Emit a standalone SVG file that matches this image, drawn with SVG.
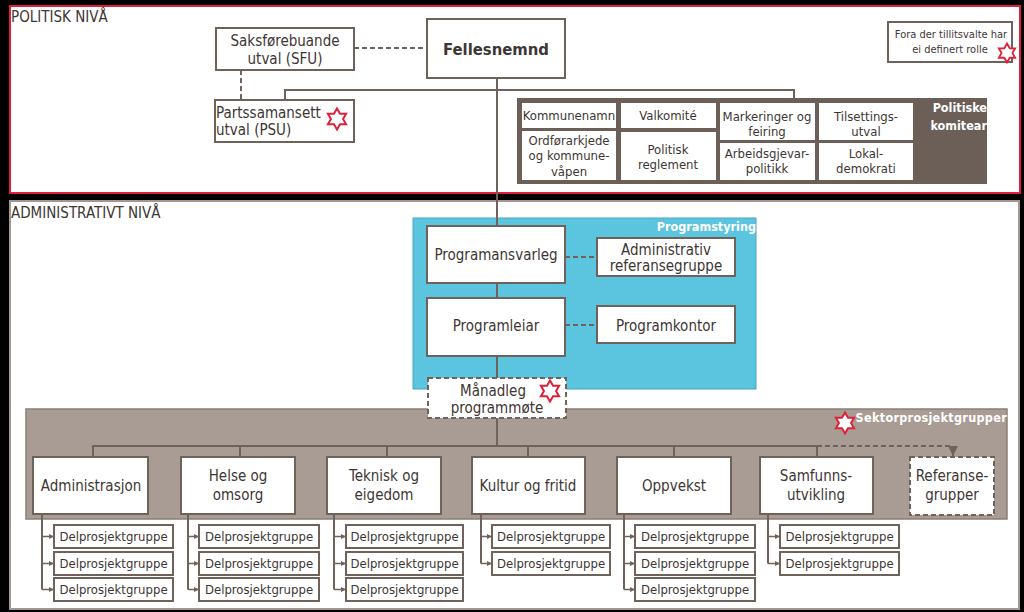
<svg xmlns="http://www.w3.org/2000/svg" width="1024" height="612" viewBox="0 0 1024 612">
<style>
text{font-family:"DejaVu Sans Condensed","DejaVu Sans",sans-serif;font-stretch:condensed;fill:#3d3634}
.n{fill:#fff;stroke:#6e625b;stroke-width:2}
.nd{fill:#fff;stroke:#6e625b;stroke-width:2;stroke-dasharray:5 3}
.ln{fill:none;stroke:#6e625b;stroke-width:2}
.ds{fill:none;stroke:#6e625b;stroke-width:2;stroke-dasharray:5 3}
.t15{font-size:15px;text-anchor:middle}
.t13{font-size:13px;text-anchor:middle}
.del{font-size:13px;text-anchor:middle}
.wb{fill:#fff;font-weight:bold;font-size:12.5px;text-anchor:end}
.title{font-size:15px}
.star{fill:#fff;stroke:#e0203a;stroke-width:2;stroke-linejoin:miter}
</style>
<defs>
<polygon id="star" points="0,-10.5 3.03,-5.25 9.09,-5.25 6.06,0 9.09,5.25 3.03,5.25 0,10.5 -3.03,5.25 -9.09,5.25 -6.06,0 -9.09,-5.25 -3.03,-5.25"/>
<marker id="ah" markerWidth="6" markerHeight="6" refX="5" refY="3" orient="auto" markerUnits="userSpaceOnUse"><path d="M0,0.5 L5,3 L0,5.5 Z" fill="#6e625b"/></marker>
<marker id="ahd" markerWidth="12" markerHeight="10" refX="10" refY="5" orient="auto" markerUnits="userSpaceOnUse"><path d="M0,0 L10,5 L0,10 Z" fill="#6e625b"/></marker>
</defs>
<rect x="0" y="0" width="1024" height="612" fill="#000"/>
<!-- frames -->
<g id="politisk-niva">
<rect x="10" y="6" width="1010" height="187" fill="#fff" stroke="#e0203a" stroke-width="2"/>
<text class="title" x="11" y="22">POLITISK NIVÅ</text>
</g>
<g id="administrativt-niva">
<rect x="10" y="201" width="1009" height="408" fill="#fff" stroke="#a39891" stroke-width="2"/>
<text class="title" x="11" y="218">ADMINISTRATIVT NIVÅ</text>
</g>
<g id="programstyring">
<rect x="413" y="218" width="343" height="171" fill="#5bc4df" stroke="#4aa7c0" stroke-width="1"/>
<text class="wb" x="756" y="231">Programstyring</text>
</g>
<g id="sektorprosjektgrupper">
<rect x="26" y="409" width="981" height="110" fill="#a99c94" stroke="#8c7f77" stroke-width="1.5"/>
<text class="wb" x="1007" y="422" style="letter-spacing:0.3px">Sektorprosjektgrupper</text>
<use href="#star" x="845" y="423" class="star"/>
</g>
<g id="politiske-komitear">
<rect x="517" y="98" width="470" height="86" fill="#6b5f58"/>
<text class="wb" x="987" y="112">Politiske</text>
<text class="wb" x="987" y="130">komitear</text>
<rect x="522" y="103" width="94" height="25" fill="#fff"/>
<text class="t13" x="569" y="120">Kommunenamn</text>
<rect x="522" y="131" width="94" height="49" fill="#fff"/>
<text class="t13" x="569" y="145">Ordførarkjede</text>
<text class="t13" x="569" y="160">og kommune-</text>
<text class="t13" x="569" y="176">våpen</text>
<rect x="621" y="103" width="95" height="25" fill="#fff"/>
<text class="t13" x="668" y="120">Valkomité</text>
<rect x="621" y="132" width="95" height="48" fill="#fff"/>
<text class="t13" x="668" y="154">Politisk</text>
<text class="t13" x="668" y="169">reglement</text>
<rect x="720" y="103" width="95" height="37" fill="#fff"/>
<text class="t13" x="767" y="121">Markeringer og</text>
<text class="t13" x="767" y="136">feiring</text>
<rect x="720" y="143" width="95" height="37" fill="#fff"/>
<text class="t13" x="767" y="158">Arbeidsgjevar-</text>
<text class="t13" x="767" y="173">politikk</text>
<rect x="819" y="103" width="94" height="37" fill="#fff"/>
<text class="t13" x="866" y="121">Tilsettings-</text>
<text class="t13" x="866" y="136">utval</text>
<rect x="819" y="143" width="94" height="37" fill="#fff"/>
<text class="t13" x="866" y="158">Lokal-</text>
<text class="t13" x="866" y="173">demokrati</text>
</g>
<!-- connectors -->
<g id="connectors">
<path class="ln" d="M497,78 V226 M497,283 V298 M497,356 V378"/>
<path class="ln" d="M285,100 V90 H794 V98"/>
<path class="ds" d="M354,48 H427"/>
<path class="ds" d="M241,70 V100"/>
<path class="ds" d="M565,257 H597"/>
<path class="ds" d="M565,325 H597"/>
<path class="ln" d="M497,418 V446 M93,457 V446 H817 V457 M240,446 V457 M387,446 V457 M528,446 V457 M674,446 V457"/>
<path class="ds" d="M817,446 H953 V456" marker-end="url(#ahd)"/>
<path class="ln" d="M42,514 V589.5 M188,514 V589.5 M334,514 V589.5 M481,514 V563.5 M624,514 V589.5 M768,514 V563.5"/>
<g marker-end="url(#ah)" class="ln" style="stroke-width:1.5">
<path d="M42,536.5 H54"/><path d="M42,563.5 H54"/><path d="M42,589.5 H54"/>
<path d="M188,536.5 H199"/><path d="M188,563.5 H199"/><path d="M188,589.5 H199"/>
<path d="M334,536.5 H346"/><path d="M334,563.5 H346"/><path d="M334,589.5 H346"/>
<path d="M481,536.5 H492"/><path d="M481,563.5 H492"/>
<path d="M624,536.5 H635"/><path d="M624,563.5 H635"/><path d="M624,589.5 H635"/>
<path d="M768,536.5 H780"/><path d="M768,563.5 H780"/>
</g>
</g>
<!-- political nodes -->
<g id="fellesnemnd">
<rect class="n" x="427" y="19" width="138" height="59"/>
<text x="496" y="55" style="font-size:16.5px;font-weight:bold;text-anchor:middle">Fellesnemnd</text>
</g>
<g id="sfu">
<rect class="n" x="216" y="28" width="138" height="42"/>
<text class="t15" x="285" y="46">Saksførebuande</text>
<text class="t15" x="285" y="64">utval (SFU)</text>
</g>
<g id="psu">
<rect class="n" x="215" y="100" width="139" height="42"/>
<text x="216" y="118" style="font-size:15px">Partssamansett</text>
<text x="216" y="135" style="font-size:15px">utval (PSU)</text>
<use href="#star" x="337" y="119" class="star"/>
</g>
<g id="fora">
<rect class="n" x="888" y="22" width="124" height="40"/>
<text x="951" y="38" style="font-size:11px;text-anchor:middle">Fora der tillitsvalte har</text>
<text x="950" y="53" style="font-size:11px;text-anchor:middle">ei definert rolle</text>
<use href="#star" x="1007" y="53" class="star" transform="translate(1007 53) scale(0.9) translate(-1007 -53)"/>
</g>
<!-- admin nodes -->
<g id="programansvarleg">
<rect class="n" x="427" y="226" width="138" height="57"/>
<text class="t15" x="496" y="260">Programansvarleg</text>
</g>
<g id="programleiar">
<rect class="n" x="427" y="298" width="138" height="58"/>
<text class="t15" x="496" y="331">Programleiar</text>
</g>
<g id="adm-referansegruppe">
<rect class="n" x="597" y="238" width="138" height="38"/>
<text class="t15" x="666" y="255">Administrativ</text>
<text class="t15" x="666" y="271">referansegruppe</text>
</g>
<g id="programkontor">
<rect class="n" x="597" y="306" width="138" height="37"/>
<text class="t15" x="666" y="331">Programkontor</text>
</g>
<g id="manadleg">
<rect class="nd" x="428" y="378" width="138" height="40"/>
<text class="t15" x="493" y="396">Månadleg</text>
<text class="t15" x="497" y="413">programmøte</text>
<use href="#star" x="550" y="391" class="star"/>
</g>
<g id="administrasjon">
<rect class="n" x="33" y="457" width="115" height="57"/>
<text class="t15" x="91" y="491">Administrasjon</text>
</g>
<g id="helse">
<rect class="n" x="181" y="457" width="114" height="57"/>
<text class="t15" x="238" y="481">Helse og</text>
<text class="t15" x="238" y="500">omsorg</text>
</g>
<g id="teknisk">
<rect class="n" x="327" y="457" width="114" height="57"/>
<text class="t15" x="384" y="481">Teknisk og</text>
<text class="t15" x="384" y="500">eigedom</text>
</g>
<g id="kultur">
<rect class="n" x="472" y="457" width="113" height="57"/>
<text class="t15" x="528" y="491">Kultur og fritid</text>
</g>
<g id="oppvekst">
<rect class="n" x="617" y="457" width="114" height="57"/>
<text class="t15" x="674" y="491">Oppvekst</text>
</g>
<g id="samfunn">
<rect class="n" x="760" y="457" width="113" height="57"/>
<text class="t15" x="816" y="481">Samfunns-</text>
<text class="t15" x="816" y="500">utvikling</text>
</g>
<g id="referansegrupper">
<rect class="nd" x="910" y="457" width="84" height="58"/>
<text class="t15" x="952" y="481">Referanse-</text>
<text class="t15" x="952" y="500">grupper</text>
</g>
<!-- delprosjektgrupper -->
<g id="del-administrasjon">
<rect class="n" x="54" y="525" width="119" height="23"/><text class="del" x="113.5" y="541">Delprosjektgruppe</text>
<rect class="n" x="54" y="552" width="119" height="23"/><text class="del" x="113.5" y="568">Delprosjektgruppe</text>
<rect class="n" x="54" y="578" width="119" height="23"/><text class="del" x="113.5" y="594">Delprosjektgruppe</text>
</g>
<g id="del-helse">
<rect class="n" x="199" y="525" width="120" height="23"/><text class="del" x="259" y="541">Delprosjektgruppe</text>
<rect class="n" x="199" y="552" width="120" height="23"/><text class="del" x="259" y="568">Delprosjektgruppe</text>
<rect class="n" x="199" y="578" width="120" height="23"/><text class="del" x="259" y="594">Delprosjektgruppe</text>
</g>
<g id="del-teknisk">
<rect class="n" x="346" y="525" width="117" height="23"/><text class="del" x="404.5" y="541">Delprosjektgruppe</text>
<rect class="n" x="346" y="552" width="117" height="23"/><text class="del" x="404.5" y="568">Delprosjektgruppe</text>
<rect class="n" x="346" y="578" width="117" height="23"/><text class="del" x="404.5" y="594">Delprosjektgruppe</text>
</g>
<g id="del-kultur">
<rect class="n" x="492" y="525" width="118" height="23"/><text class="del" x="551" y="541">Delprosjektgruppe</text>
<rect class="n" x="492" y="552" width="118" height="23"/><text class="del" x="551" y="568">Delprosjektgruppe</text>
</g>
<g id="del-oppvekst">
<rect class="n" x="635" y="525" width="120" height="23"/><text class="del" x="695" y="541">Delprosjektgruppe</text>
<rect class="n" x="635" y="552" width="120" height="23"/><text class="del" x="695" y="568">Delprosjektgruppe</text>
<rect class="n" x="635" y="578" width="120" height="23"/><text class="del" x="695" y="594">Delprosjektgruppe</text>
</g>
<g id="del-samfunn">
<rect class="n" x="780" y="525" width="119" height="23"/><text class="del" x="839.5" y="541">Delprosjektgruppe</text>
<rect class="n" x="780" y="552" width="119" height="23"/><text class="del" x="839.5" y="568">Delprosjektgruppe</text>
</g>
</svg>
